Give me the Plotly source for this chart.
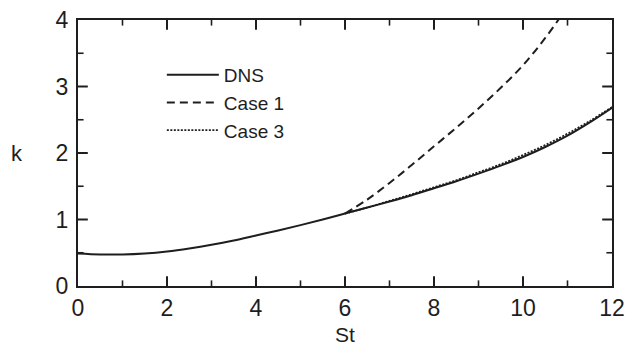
import plotly.graph_objects as go

st_dns = [0, 0.5, 1, 1.5, 2, 2.5, 3, 3.5, 4, 4.5, 5, 5.5, 6, 6.5, 7, 7.5, 8, 8.5, 9, 9.5, 10, 10.5, 11, 11.5, 12]
k_dns = [0.49, 0.475, 0.475, 0.49, 0.52, 0.565, 0.62, 0.685, 0.76, 0.835, 0.915, 1.0, 1.09,
         1.18, 1.27, 1.365, 1.47, 1.575, 1.69, 1.81, 1.94, 2.09, 2.26, 2.46, 2.68]

st_case1 = [6, 6.5, 7, 7.5, 8, 8.5, 9, 9.5, 10, 10.5, 11]
k_case1 = [1.09, 1.3, 1.55, 1.82, 2.1, 2.38, 2.67, 2.98, 3.32, 3.73, 4.2]

st_case3 = [6, 6.5, 7, 7.5, 8, 8.5, 9, 9.5, 10, 10.5, 11, 11.5, 12]
k_case3 = [1.09, 1.18, 1.28, 1.38, 1.485, 1.59, 1.71, 1.83, 1.97, 2.12, 2.29, 2.48, 2.69]

x_range = [0, 12]
y_range = [0, 4]
x_major_inner = [2, 4, 6, 8, 10]
x_minor_inner = [1, 3, 5, 7, 9, 11]
y_major_inner = [1, 2, 3]
y_minor_inner = [0.5, 1.5, 2.5, 3.5]
x_tick_step = 2
y_tick_step = 1

ink = "#1e1e1e"
font = "Liberation Sans, Arial, Helvetica, sans-serif"

fig = go.Figure()
fig.add_trace(go.Scatter(x=st_dns, y=k_dns, mode="lines", name="DNS",
                         line=dict(color=ink, width=2, shape="spline")))
fig.add_trace(go.Scatter(x=st_case1, y=k_case1, mode="lines", name="Case 1",
                         line=dict(color=ink, width=2, dash="8px,5px", shape="spline")))
fig.add_trace(go.Scatter(x=st_case3, y=k_case3, mode="lines", name="Case 3",
                         line=dict(color=ink, width=1.8, dash="2px,1.5px", shape="spline")))


def tick_marks(xs, ys, symbol, size, width):
    # inward frame ticks: markers centred on the frame, the outer half clipped by the plot area
    return go.Scatter(x=xs, y=ys, mode="markers", showlegend=False, hoverinfo="skip",
                      cliponaxis=True,
                      marker=dict(symbol=symbol, size=size, color=ink,
                                  line=dict(color=ink, width=width)))


for yv in y_range:
    fig.add_trace(tick_marks(x_major_inner, [yv] * len(x_major_inner), "line-ns", 14, 2))
    fig.add_trace(tick_marks(x_minor_inner, [yv] * len(x_minor_inner), "line-ns", 8, 1.6))
for xv in x_range:
    fig.add_trace(tick_marks([xv] * len(y_major_inner), y_major_inner, "line-ew", 14, 2))
    fig.add_trace(tick_marks([xv] * len(y_minor_inner), y_minor_inner, "line-ew", 8, 1.6))

fig.update_layout(
    xaxis=dict(range=x_range, tickmode="linear", tick0=0, dtick=x_tick_step,
               showgrid=False, zeroline=False, showline=True, linecolor=ink, linewidth=2,
               mirror=True, ticks="",
               tickfont=dict(family=font, size=23, color=ink),
               title=dict(text="St", font=dict(family=font, size=21, color=ink), standoff=8)),
    yaxis=dict(range=y_range, tickmode="linear", tick0=0, dtick=y_tick_step,
               showgrid=False, zeroline=False, showline=True, linecolor=ink, linewidth=2,
               mirror=True, ticks="", ticklabelstandoff=3,
               tickfont=dict(family=font, size=23, color=ink)),
)

fig.add_annotation(text="k", xref="paper", yref="paper", x=-0.115, y=0.5, showarrow=False,
                   xanchor="center", yanchor="middle",
                   font=dict(family=font, size=22, color=ink))

fig.update_layout(
    template="none",
    width=637, height=356,
    margin=dict(l=78, r=25, t=20, b=70),
    paper_bgcolor="white", plot_bgcolor="white",
    showlegend=True,
    legend=dict(x=0.157, y=0.865, xanchor="left", yanchor="top",
                bgcolor="rgba(0,0,0,0)", font=dict(family=font, size=19, color=ink),
                itemwidth=52, tracegroupgap=0),
)

fig.write_html("out.html")
